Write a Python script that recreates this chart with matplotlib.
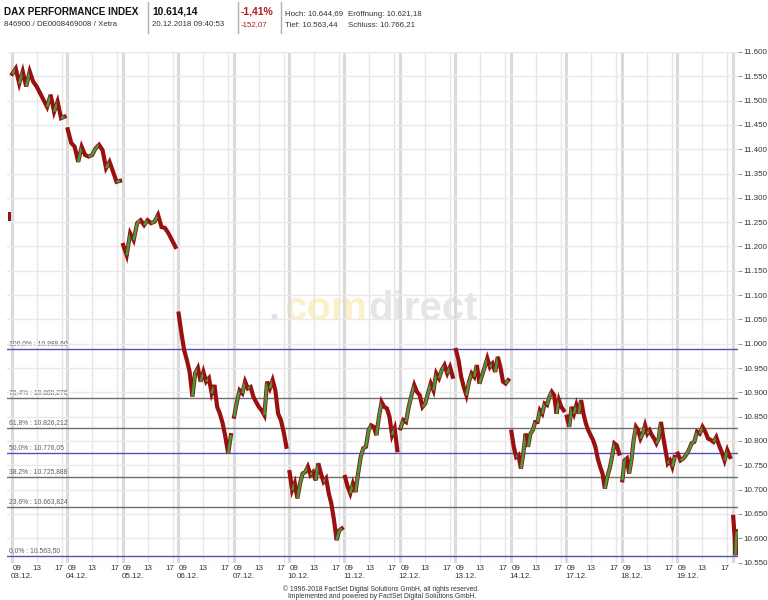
import matplotlib
matplotlib.use("Agg")
import matplotlib.pyplot as plt
from matplotlib.collections import LineCollection
from matplotlib.lines import Line2D
from matplotlib.ticker import FuncFormatter
import numpy as np

plt.rcParams["font.family"] = ["Liberation Sans", "DejaVu Sans"]

# trading days shown on the x axis
days = ["03.12.", "04.12.", "05.12.", "06.12.", "07.12.", "10.12.", "11.12.",
        "12.12.", "13.12.", "14.12.", "17.12.", "18.12.", "19.12.", "20.12."]

# closing bar of the previous session (30.11.)
prev_close = [11270, 11252]

# intraday prices, one list per trading day
d0312 = [11555, 11566, 11535, 11560, 11529, 11560, 11539, 11529, 11515, 11501,
         11487, 11512, 11477, 11498, 11464, 11467]
d0412 = [11441, 11413, 11405, 11374, 11405, 11388, 11385, 11388, 11402, 11409,
         11398, 11361, 11374, 11354, 11333, 11335]
d0512 = [11203, 11182, 11227, 11213, 11248, 11254, 11244, 11254, 11248, 11251,
         11265, 11240, 11238, 11227, 11213, 11199]
d0612 = [11062, 11022, 10987, 10966, 10942, 10891, 10939, 10950, 10922, 10942,
         10922, 10929, 10898, 10915, 10870, 10856, 10836, 10808, 10774, 10812]
d0712 = [10850, 10880, 10904, 10898, 10922, 10908, 10911, 10891, 10880, 10870,
         10863, 10853, 10922, 10908, 10925, 10904, 10856, 10843, 10819, 10788]
d1012 = [10736, 10699, 10713, 10682, 10712, 10733, 10736, 10747, 10730, 10736,
         10719, 10754, 10733, 10716, 10723, 10692, 10671, 10637, 10596, 10616, 10620]
d1112 = [10726, 10706, 10692, 10712, 10695, 10733, 10767, 10785, 10788, 10822,
         10832, 10829, 10812, 10850, 10880, 10870, 10867, 10850, 10812, 10826, 10781]
d1212 = [10826, 10843, 10839, 10870, 10894, 10915, 10901, 10894, 10870, 10877,
         10898, 10918, 10904, 10939, 10929, 10946, 10956, 10939, 10952, 10932]
d1312 = [10987, 10966, 10932, 10911, 10894, 10922, 10939, 10932, 10956, 10918,
         10935, 10952, 10970, 10952, 10959, 10942, 10973, 10952, 10922, 10918, 10925]
d1412 = [10819, 10788, 10767, 10771, 10743, 10774, 10815, 10788, 10815, 10822,
         10839, 10839, 10863, 10856, 10877, 10874, 10891, 10901, 10894, 10856,
         10884, 10870, 10863]
d1712 = [10850, 10829, 10870, 10856, 10874, 10856, 10884, 10856, 10836, 10822,
         10812, 10802, 10788, 10764, 10747, 10733, 10702, 10726, 10743, 10767,
         10795, 10791, 10774]
d1812 = [10719, 10760, 10764, 10733, 10760, 10802, 10829, 10822, 10805, 10815,
         10832, 10815, 10822, 10812, 10805, 10795, 10805, 10839, 10808, 10781,
         10754, 10760, 10747, 10767]
d1912 = [10774, 10760, 10764, 10771, 10781, 10795, 10798, 10819, 10815, 10829,
         10819, 10805, 10802, 10798, 10808, 10791, 10777, 10760, 10781, 10767]
d2012 = [10644, 10623, 10603, 10565, 10596, 10614]
intraday = [d0312, d0412, d0512, d0612, d0712, d1012, d1112, d1212, d1312,
            d1412, d1712, d1812, d1912, d2012]

# fibonacci retracement levels
fib_pct = ["100,0%", "76,4%", "61,8%", "50,0%", "38,2%", "23,6%", "0,0%"]
fib_vals = [10988.60, 10888.276, 10826.212, 10776.05, 10725.888, 10663.824, 10563.50]
fib_txt = ["10.988,60", "10.888,276", "10.826,212", "10.776,05", "10.725,888",
           "10.663,824", "10.563,50"]
fib_main = [True, False, False, True, False, False, True]

DAY_H = 8.87          # hours per day slot on the axis
RED = "#9a1010"
GREEN = "#3f9f3f"


def xpos(day, hour):
    return day + (hour - 9) / DAY_H


fig = plt.figure(figsize=(7.68, 6.0), dpi=100)
W, H = 768, 600
ax = fig.add_axes([7 / W, 1 - 562.5 / H, 731 / W, 510.5 / H])
ax.set_xlim(-0.085, 13.096)
ax.set_ylim(10550, 11600)

# grid
ax.set_yticks(np.arange(10550, 11601, 50))
ax.grid(axis="y", color="#e9e9e9", lw=1, zorder=0)
for i in range(len(days)):
    ax.axvline(i, color="#dadada", lw=2.2, zorder=0.6)
    if i < len(days) - 1:
        for h in (13, 17):
            ax.axvline(xpos(i, h), color="#e6e6e6", lw=1, zorder=0.6)

# fibonacci lines
for pct, val, txt, main in zip(fib_pct, fib_vals, fib_txt, fib_main):
    ax.axhline(val, color="#5050c0" if main else "#6e6e6e", lw=1, zorder=1)
    ax.text(-0.05, val + 4, f"{pct} : {txt}", fontsize=4.9, color="#5e5e5e",
            va="bottom", ha="left", zorder=1)

# price path: segments coloured by direction, like dense red/green bars
ax.bar(-0.04, prev_close[0] - prev_close[1], bottom=prev_close[1], width=0.05,
       color=RED, lw=0, zorder=3)
for i, vals in enumerate(intraday):
    end = xpos(i, 9 + 40 / 60) if i == len(days) - 1 else xpos(i, 17.45)
    x = np.linspace(i + 0.01, end, len(vals))
    pts = np.column_stack([x, vals])
    segs = np.stack([pts[:-1], pts[1:]], axis=1)
    cols = [GREEN if b > a else RED for a, b in zip(vals[:-1], vals[1:])]
    # dark red underlay gives the thick jagged band
    ax.plot(x, vals, color=RED, lw=3.0, solid_joinstyle="miter", zorder=3)
    ax.add_collection(LineCollection(segs, colors=cols, linewidths=1.8, zorder=4))

# watermark
ax.text(279 / W, 1 - 320 / H, ".", transform=fig.transFigure, fontsize=29,
        weight="bold", color="#e2e2e2", ha="right", va="baseline", zorder=0.5)
ax.text(367 / W, 1 - 320 / H, "com", transform=fig.transFigure, fontsize=29,
        weight="bold", color="#fcf0c6", ha="right", va="baseline", zorder=0.5)
ax.text(368 / W, 1 - 320 / H, "direct", transform=fig.transFigure, fontsize=29,
        weight="bold", color="#e6e6e6", ha="left", va="baseline", zorder=0.5)

# axes styling
for s in ax.spines.values():
    s.set_visible(False)
ax.yaxis.tick_right()
ax.yaxis.set_major_formatter(FuncFormatter(lambda v, p: f"{v / 1000:.3f}"))
ax.tick_params(axis="y", labelsize=5.8, labelcolor="#333333", color="#999999",
               length=3, pad=1)
ax.set_xticks([])

# time and date labels below the plot
xt = ax.get_xaxis_transform()
for i, d in enumerate(days[:-1]):
    ax.text(xpos(i, 9) + 0.01, -0.011, "09", transform=xt, fontsize=5.8,
            color="#333333", ha="left", va="center")
    ax.text(xpos(i, 13), -0.011, "13", transform=xt, fontsize=5.8,
            color="#333333", ha="center", va="center")
    ax.text(xpos(i, 17) + 0.03, -0.011, "17", transform=xt, fontsize=5.8,
            color="#333333", ha="right", va="center")
    ax.text(i - 0.02, -0.028, d, transform=xt, fontsize=5.8,
            color="#333333", ha="left", va="center")

# header
def htext(x, y, s, **kw):
    fig.text(x / W, 1 - y / H, s, va="baseline", ha="left", **kw)

htext(4, 15, "DAX PERFORMANCE INDEX", fontsize=7.2, weight="bold", color="#111111")
htext(4, 26.5, "846900 / DE0008469008 / Xetra", fontsize=5.7, color="#333333")
htext(152, 15, "10.614,14", fontsize=7.4, weight="bold", color="#111111")
htext(152, 26.5, "20.12.2018 09:40:53", fontsize=5.7, color="#333333")
htext(241, 15, "-1,41%", fontsize=7.5, weight="bold", color="#b01e1e")
htext(241, 26.5, "-152,07", fontsize=5.7, color="#b01e1e")
htext(285, 15.5, "Hoch: 10.644,69", fontsize=5.7, color="#333333")
htext(348, 15.5, "Eröffnung: 10.621,18", fontsize=5.7, color="#333333")
htext(285, 26.5, "Tief: 10.563,44", fontsize=5.7, color="#333333")
htext(348, 26.5, "Schluss: 10.766,21", fontsize=5.7, color="#333333")
for xs in (148, 237.5, 281):
    fig.add_artist(Line2D([xs / W, xs / W], [1 - 2 / H, 1 - 33 / H],
                          color="#b0b0b0", lw=1))

# footer
fig.text(381 / W, 1 - 591 / H, "© 1996-2018 FactSet Digital Solutions GmbH, all rights reserved.",
         fontsize=4.9, color="#333333", ha="center", va="baseline")
fig.text(382 / W, 1 - 598.5 / H, "Implemented and powered by FactSet Digital Solutions GmbH.",
         fontsize=4.9, color="#333333", ha="center", va="baseline")

fig.savefig("out.png", dpi=100)
